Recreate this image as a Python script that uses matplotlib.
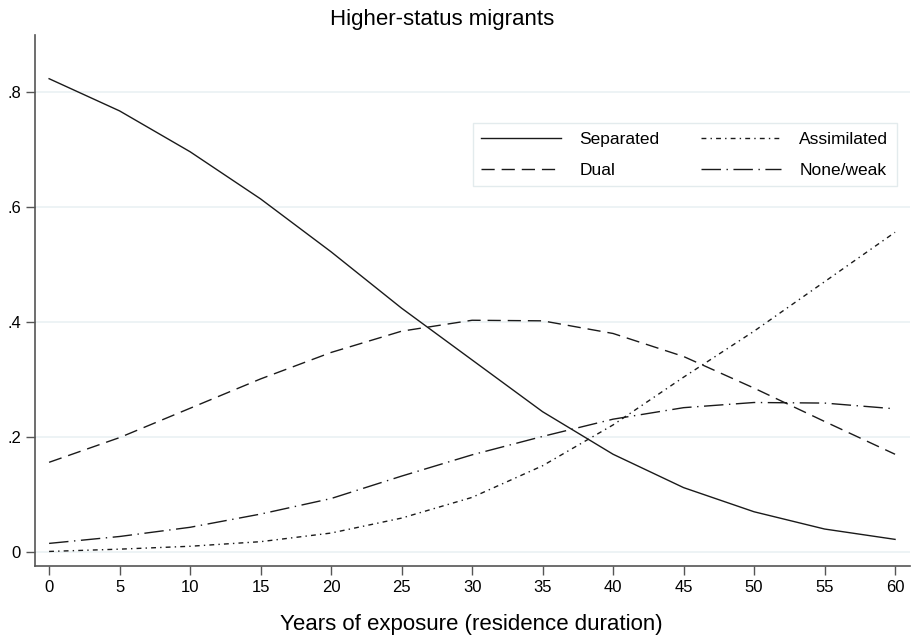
import matplotlib
matplotlib.use("Agg")
import matplotlib.pyplot as plt

plt.rcParams['font.family'] = ['Liberation Sans', 'DejaVu Sans']

# predicted probabilities by years of exposure
years = [0, 5, 10, 15, 20, 25, 30, 35, 40, 45, 50, 55, 60]
separated = [0.823, 0.767, 0.696, 0.614, 0.522, 0.424, 0.334, 0.244, 0.170, 0.112, 0.070, 0.040, 0.022]
dual = [0.156, 0.199, 0.250, 0.301, 0.347, 0.384, 0.403, 0.402, 0.380, 0.340, 0.285, 0.227, 0.170]
assimilated = [0.001, 0.005, 0.010, 0.018, 0.033, 0.059, 0.095, 0.150, 0.221, 0.304, 0.384, 0.470, 0.556]
noneweak = [0.015, 0.027, 0.043, 0.066, 0.093, 0.132, 0.169, 0.201, 0.231, 0.251, 0.260, 0.259, 0.249]

yticks = [0, 0.2, 0.4, 0.6, 0.8]
yticklabels = ['0', '.2', '.4', '.6', '.8']
xticks = list(range(0, 61, 5))

fig = plt.figure(figsize=(9.11, 6.36), dpi=100)
ax = fig.add_axes([35/911, 70/636, 875/911, 531/636])

lc = '#1a1a1a'
ax.plot(years, separated, color=lc, lw=1.0, linestyle='-', label='Separated')
ax.plot(years, dual, color=lc, lw=1.0, linestyle=(0, (9.5, 5)), label='Dual')
ax.plot(years, assimilated, color=lc, lw=1.0, linestyle=(0, (3.5, 3, 1, 3)), label='Assimilated')
ax.plot(years, noneweak, color=lc, lw=1.0, linestyle=(0, (14, 4, 1, 4)), label='None/weak')

ax.set_xlim(-1.0, 61.06)
ax.set_ylim(-0.0243, 0.899)
ax.set_xticks(xticks)
ax.set_yticks(yticks)
ax.set_yticklabels(yticklabels)
ax.tick_params(axis='both', direction='out', length=6.5, width=1, color='#555555',
               labelsize=12, pad=3.5)

for y in yticks:
    ax.axhline(y, color='#eaf1f3', lw=1.2, zorder=0)

for s in ['top', 'right']:
    ax.spines[s].set_visible(False)
for s in ['left', 'bottom']:
    ax.spines[s].set_color('#555555')
    ax.spines[s].set_linewidth(1.2)

# two-column legend box in the upper right
leg = ax.legend(loc='upper left', bbox_to_anchor=(0.5006, 0.834), borderaxespad=0, ncol=2,
                fontsize=12.5, handlelength=4.6, handletextpad=1.05, columnspacing=2.4,
                labelspacing=0.93, borderpad=0.48, fancybox=False, framealpha=1,
                edgecolor='#e3ebed')
leg.get_frame().set_linewidth(1.0)

fig.text(442/911, 1 - 25/636, 'Higher-status migrants', ha='center', va='baseline', fontsize=16)
fig.text(471.5/911, 1 - 630/636, 'Years of exposure (residence duration)', ha='center',
         va='baseline', fontsize=16)

fig.savefig('out.png', dpi=100)
